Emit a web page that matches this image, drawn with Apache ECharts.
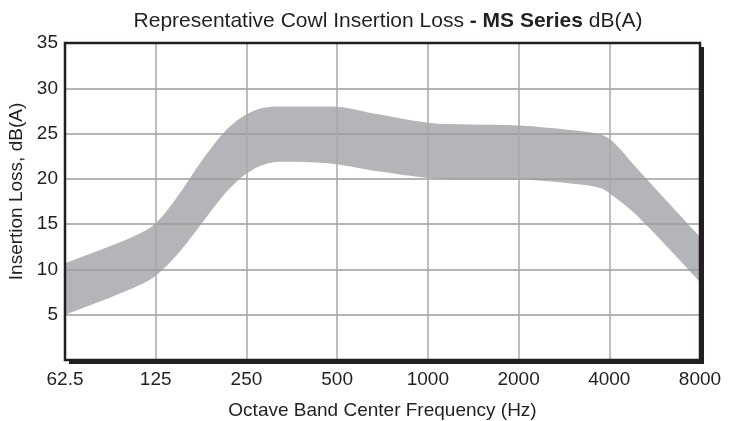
<!DOCTYPE html>
<html>
<head>
<meta charset="utf-8">
<script src="https://cdn.jsdelivr.net/npm/echarts@6/dist/echarts.min.js"></script>
<style>
  html, body { margin: 0; padding: 0; background: #fff; }
  #chart { width: 734px; height: 421px; }
</style>
</head>
<body>
<div id="chart"></div>
<script>
// Octave band centre frequencies shown along the bottom axis
const freqLabels = ['62.5', '125', '250', '500', '1000', '2000', '4000', '8000'];

// Sample positions along the axis, in octaves above 62.5 Hz
const octavePos = [0, 0.5, 0.83, 1.0, 1.25, 1.5, 1.82, 2.1, 2.37, 2.92, 3.47, 4.0, 4.47, 5.0, 5.57, 5.9, 6.03, 6.3, 7.0];

// Lower and upper edges of the insertion-loss range, dB(A)
const lossLow  = [5.0, 6.9, 8.3, 9.3, 11.8, 15.0, 19.0, 21.2, 21.9, 21.7, 20.8, 20.1, 19.9, 19.9, 19.5, 19.0, 18.2, 16.0, 8.6];
const lossHigh = [10.7, 12.6, 14.0, 15.1, 18.2, 21.9, 25.8, 27.6, 28.0, 28.0, 27.1, 26.2, 26.0, 25.9, 25.4, 24.9, 24.2, 21.2, 13.6];

// Value-axis ticks (0 left unlabeled)
const yTicks = [0, 5, 10, 15, 20, 25, 30, 35];

const highPairs = octavePos.map((x, i) => [x, lossHigh[i]]);
const lowPairs = octavePos.map((x, i) => [x, lossLow[i]]);

const chart = echarts.init(document.getElementById('chart'), null, { renderer: 'canvas' });

const font = '"Liberation Sans", Arial, sans-serif';
const ink = '#231f20';
const plotBox = { left: 65, top: 43, right: 34, bottom: 61, outerBoundsMode: 'none', containLabel: false };

chart.setOption({
  animation: false,
  backgroundColor: '#fff',
  title: {
    text: '{n|Representative Cowl Insertion Loss }{b|- MS Series}{n| dB(A)}',
    left: 383,
    textAlign: 'center',
    top: 6,
    textStyle: {
      rich: {
        n: { fontFamily: font, fontSize: 21, fontWeight: 'normal', color: ink },
        b: { fontFamily: font, fontSize: 21, fontWeight: 'bold', color: ink }
      }
    }
  },
  grid: [
    {
      // plot area: white face with a solid drop shadow to the lower right
      ...plotBox,
      show: true,
      backgroundColor: '#fff',
      borderWidth: 0,
      shadowColor: ink,
      shadowBlur: 0,
      shadowOffsetX: 4,
      shadowOffsetY: 4
    },
    {
      // frame drawn above the range band
      ...plotBox,
      show: true,
      z: 20,
      backgroundColor: 'transparent',
      borderColor: ink,
      borderWidth: 2.5
    }
  ],
  xAxis: [
    {
      type: 'value',
      gridIndex: 0,
      min: 0,
      max: 7,
      interval: 1,
      z: 5,
      name: 'Octave Band Center Frequency (Hz)',
      nameLocation: 'middle',
      nameGap: 41,
      nameTextStyle: { fontFamily: font, fontSize: 19, color: ink },
      axisLine: { show: false },
      axisTick: { show: false },
      axisLabel: {
        margin: 10,
        fontFamily: font,
        fontSize: 19,
        color: ink,
        formatter: v => freqLabels[Math.round(v)] || ''
      },
      splitLine: { show: true, showMinLine: false, showMaxLine: false, lineStyle: { color: '#a8a8a8', width: 1.5 } }
    },
    { type: 'value', gridIndex: 1, min: 0, max: 1, show: false }
  ],
  yAxis: [
    {
      type: 'value',
      gridIndex: 0,
      min: yTicks[0],
      max: yTicks[yTicks.length - 1],
      interval: 5,
      z: 5,
      name: 'Insertion Loss, dB(A)',
      nameLocation: 'middle',
      nameGap: 38,
      nameTextStyle: { fontFamily: font, fontSize: 19, color: ink, padding: [0, 0, 0, 20] },
      axisLine: { show: false },
      axisTick: { show: false },
      axisLabel: {
        margin: 7,
        fontFamily: font,
        fontSize: 19,
        color: ink,
        formatter: v => (v === 0 ? '' : String(v))
      },
      splitLine: { show: true, showMinLine: false, showMaxLine: false, lineStyle: { color: '#9c9c9c', width: 1.5 } }
    },
    { type: 'value', gridIndex: 1, min: 0, max: 1, show: false }
  ],
  series: [
    {
      // upper edge, filled grey down to the axis
      type: 'line',
      data: highPairs,
      smooth: 0.35,
      symbol: 'none',
      lineStyle: { width: 0, opacity: 0 },
      areaStyle: { color: '#b4b5b9', opacity: 1, origin: 'start' },
      silent: true,
      z: 2
    },
    {
      // lower edge, white fill clears everything beneath the range
      type: 'line',
      data: lowPairs,
      smooth: 0.35,
      symbol: 'none',
      lineStyle: { width: 0, opacity: 0 },
      areaStyle: { color: '#fff', opacity: 1, origin: 'start' },
      silent: true,
      z: 3
    }
  ]
});
</script>
</body>
</html>
